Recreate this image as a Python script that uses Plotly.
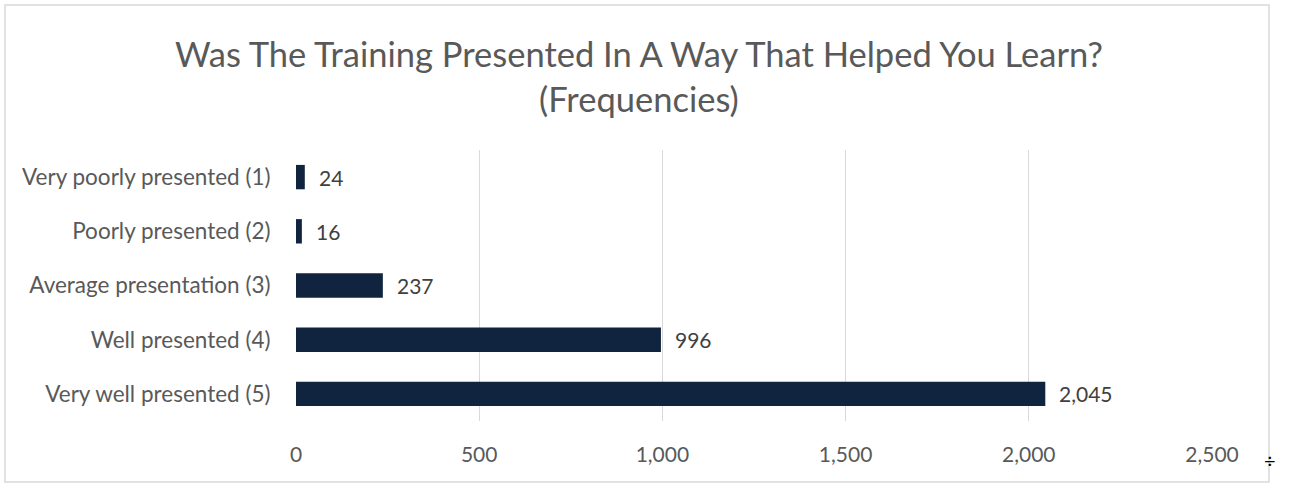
import plotly.graph_objects as go

categories = ["Very poorly presented (1)", "Poorly presented (2)", "Average presentation (3)",
              "Well presented (4)", "Very well presented (5)"]
counts = [24, 16, 237, 996, 2045]
x_ticks = [0, 500, 1000, 1500, 2000, 2500]
x_tick_labels = ["0", "500", "1,000", "1,500", "2,000", "2,500"]

W, H = 1291, 483
L, R, T, B = 296, 1212, 150, 421
pw, ph = R - L, B - T

def px(x):
    return (x - L) / pw

def py(y):
    return (B - y) / ph

FONT = "Lato, Carlito, Calibri, sans-serif"
GRAY = "#595959"

fig = go.Figure()
fig.add_trace(go.Bar(
    y=categories, x=counts, orientation="h",
    marker=dict(color="#10233F", line=dict(width=0)),
    width=0.45,
))

for c, v in zip(categories, counts):
    fig.add_annotation(x=v, y=c, xref="x", yref="y", text=f"{v:,}", showarrow=False,
                       xanchor="left", xshift=12, font=dict(family=FONT, size=21, color="#404040"))

fig.add_annotation(x=px(639), y=py(76), xref="paper", yref="paper",
                   text="Was The Training Presented In A Way That Helped You Learn?<br>(Frequencies)",
                   showarrow=False, xanchor="center", yanchor="middle",
                   font=dict(family=FONT, size=34.5, color=GRAY))

fig.add_annotation(x=px(1278), y=py(474), xref="paper", yref="paper", text="÷",
                   showarrow=False, font=dict(family=FONT, size=20, color="#000000"))

fig.add_shape(type="rect", xref="paper", yref="paper",
              x0=px(5), x1=px(1269), y0=py(482), y1=py(5),
              line=dict(color="#D9D9D9", width=1.5), fillcolor="rgba(0,0,0,0)")

fig.update_layout(
    width=W, height=H,
    margin=dict(l=L, r=W - R, t=T, b=H - B, pad=0),
    plot_bgcolor="white", paper_bgcolor="white",
    showlegend=False,
    bargap=0.55,
    xaxis=dict(range=[0, 2500], tickvals=x_ticks, ticktext=x_tick_labels,
               showgrid=True, gridcolor="#D9D9D9", gridwidth=1, zeroline=False,
               showline=False, ticks="outside", ticklen=15, tickcolor="rgba(0,0,0,0)",
               tickfont=dict(family=FONT, size=21, color=GRAY)),
    yaxis=dict(categoryorder="array", categoryarray=categories, autorange="reversed",
               showgrid=False, zeroline=False, showline=False,
               ticks="outside", ticklen=20, tickcolor="rgba(0,0,0,0)",
               tickfont=dict(family=FONT, size=22.5, color=GRAY)),
)

fig.write_html("out.html")
